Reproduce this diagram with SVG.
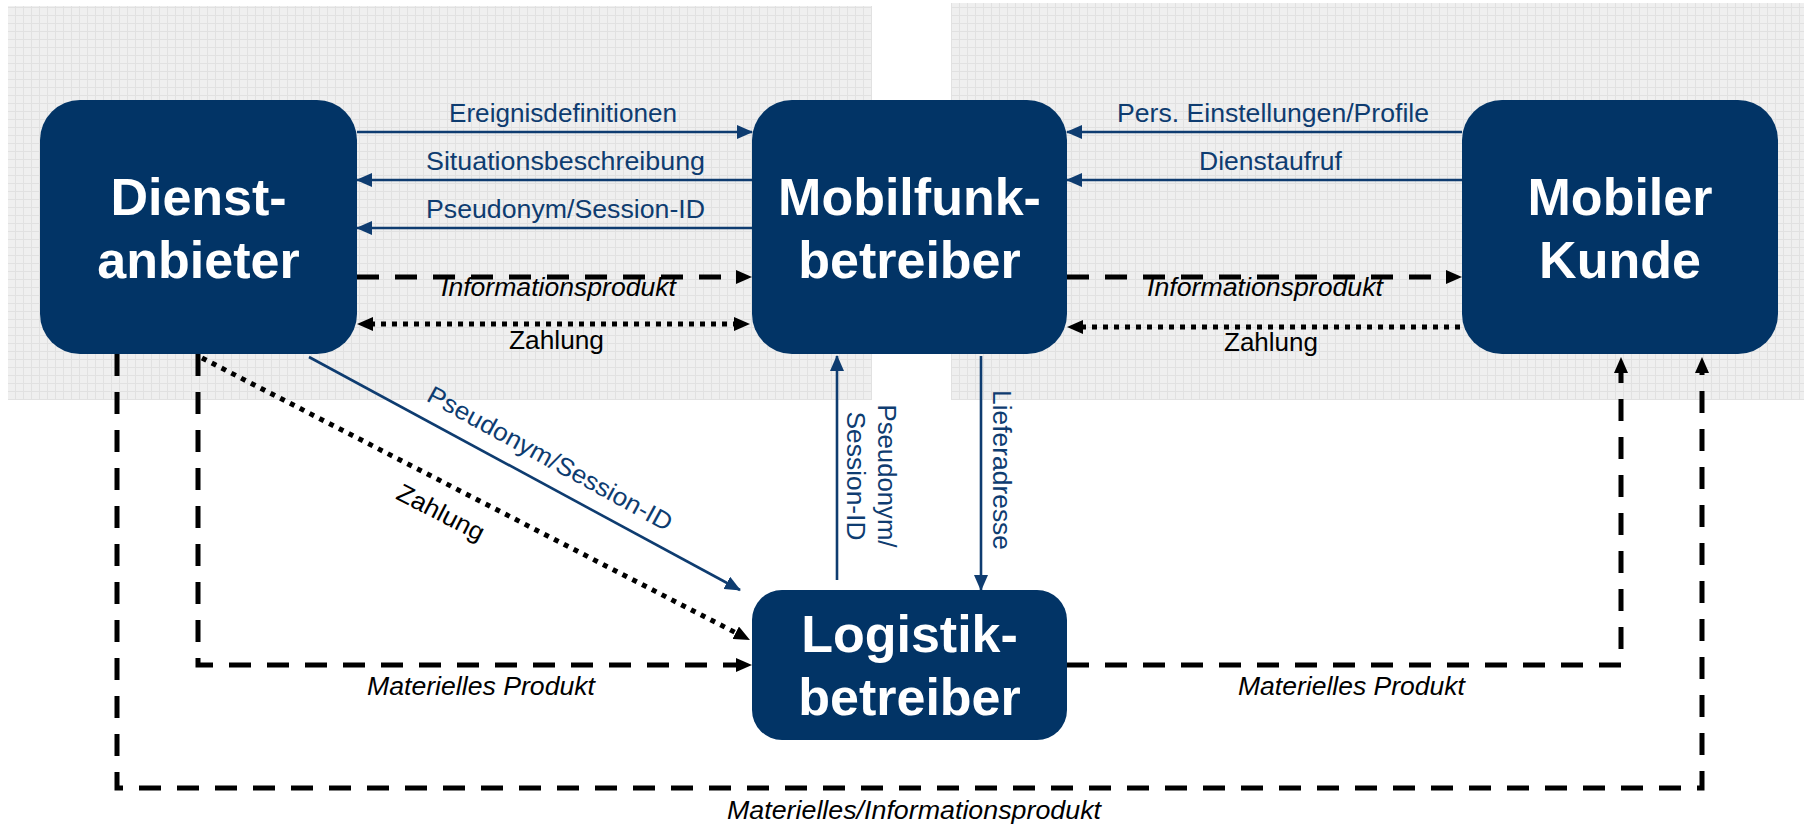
<svg xmlns="http://www.w3.org/2000/svg" width="1804" height="826" viewBox="0 0 1804 826">
<style>
.node rect{fill:#023466}
.nt{font-family:"Liberation Sans",Arial,sans-serif;font-weight:bold;font-size:52px;fill:#fff;text-anchor:middle}
.bl{font-family:"Liberation Sans",Arial,sans-serif;font-size:25px;fill:#0e3c70}
.bk{font-family:"Liberation Sans",Arial,sans-serif;font-size:25px;fill:#000}
.it{font-style:italic}
.lb{fill:none;stroke:#0e3c70;stroke-width:2.6}
.ld{fill:none;stroke:#000;stroke-width:5;stroke-dasharray:22 16}
.lo{fill:none;stroke:#000;stroke-width:5;stroke-dasharray:5 6}
</style>
<defs>
<pattern id="grid" width="8" height="8" patternUnits="userSpaceOnUse">
<rect width="8" height="8" fill="#efefef"/>
<path d="M7.5 0V8M0 7.5H8" stroke="#e1e1e1" stroke-width="1"/>
</pattern>
<marker id="arrB" markerUnits="userSpaceOnUse" markerWidth="16" markerHeight="14" refX="15" refY="7" orient="auto-start-reverse">
<path d="M0,0 L16,7 L0,14 z" fill="#0e3c70"/>
</marker>
<marker id="arrK" markerUnits="userSpaceOnUse" markerWidth="16" markerHeight="14" refX="3" refY="7" orient="auto-start-reverse">
<path d="M0,0 L16,7 L0,14 z" fill="#000"/>
</marker>
</defs>

<g id="background">
<rect x="8" y="6" width="864" height="394" fill="url(#grid)"/>
<rect x="951" y="3" width="853" height="397" fill="url(#grid)"/>
</g>

<g id="connectors">
<line class="lb" x1="357" y1="132" x2="752" y2="132" marker-end="url(#arrB)"/>
<line class="lb" x1="752" y1="180" x2="357" y2="180" marker-end="url(#arrB)"/>
<line class="lb" x1="752" y1="228" x2="357" y2="228" marker-end="url(#arrB)"/>
<line class="ld" x1="357" y1="277" x2="739" y2="277" marker-end="url(#arrK)"/>
<line class="lo" x1="370" y1="324" x2="737" y2="324" marker-start="url(#arrK)" marker-end="url(#arrK)"/>
<line class="lb" x1="1462" y1="132" x2="1067" y2="132" marker-end="url(#arrB)"/>
<line class="lb" x1="1462" y1="180" x2="1067" y2="180" marker-end="url(#arrB)"/>
<line class="ld" x1="1067" y1="277" x2="1449" y2="277" marker-end="url(#arrK)"/>
<line class="lo" x1="1460" y1="327" x2="1080" y2="327" marker-end="url(#arrK)"/>
<line class="lb" x1="309" y1="357" x2="740" y2="590" marker-end="url(#arrB)"/>
<line class="lo" x1="202" y1="358" x2="738.4" y2="634.1" marker-end="url(#arrK)"/>
<line class="lb" x1="837" y1="580" x2="837" y2="356" marker-end="url(#arrB)"/>
<line class="lb" x1="981" y1="356" x2="981" y2="590" marker-end="url(#arrB)"/>
<path class="ld" d="M198,354 V665 H739" marker-end="url(#arrK)"/>
<path class="ld" d="M117,354 V788 H1702 V370" marker-end="url(#arrK)"/>
<path class="ld" d="M1067,665 H1621 V370" marker-end="url(#arrK)"/>
</g>

<g id="labels">
<text class="bl" x="449" y="122" textLength="228" lengthAdjust="spacingAndGlyphs">Ereignisdefinitionen</text>
<text class="bl" x="426" y="170" textLength="279" lengthAdjust="spacingAndGlyphs">Situationsbeschreibung</text>
<text class="bl" x="426" y="218" textLength="279" lengthAdjust="spacingAndGlyphs">Pseudonym/Session-ID</text>
<text class="bk it" x="441" y="296" textLength="235" lengthAdjust="spacingAndGlyphs">Informationsprodukt</text>
<text class="bk" x="509" y="349" textLength="95" lengthAdjust="spacingAndGlyphs">Zahlung</text>
<text class="bl" x="1117" y="122" textLength="312" lengthAdjust="spacingAndGlyphs">Pers. Einstellungen/Profile</text>
<text class="bl" x="1199" y="170" textLength="143" lengthAdjust="spacingAndGlyphs">Dienstaufruf</text>
<text class="bk it" x="1147" y="296" textLength="236" lengthAdjust="spacingAndGlyphs">Informationsprodukt</text>
<text class="bk" x="1224" y="351" textLength="94" lengthAdjust="spacingAndGlyphs">Zahlung</text>
<text class="bl" transform="translate(546,466) rotate(28.6)" text-anchor="middle" textLength="275" lengthAdjust="spacingAndGlyphs">Pseudonym/Session-ID</text>
<text class="bk" transform="translate(437,520) rotate(27.2)" text-anchor="middle" textLength="95" lengthAdjust="spacingAndGlyphs">Zahlung</text>
<text class="bl" transform="translate(878,476) rotate(90)" text-anchor="middle" textLength="143" lengthAdjust="spacingAndGlyphs">Pseudonym/</text>
<text class="bl" transform="translate(847,476) rotate(90)" text-anchor="middle" textLength="129" lengthAdjust="spacingAndGlyphs">Session-ID</text>
<text class="bl" transform="translate(993,470) rotate(90)" text-anchor="middle" textLength="160" lengthAdjust="spacingAndGlyphs">Lieferadresse</text>
<text class="bk it" x="367" y="695" textLength="228" lengthAdjust="spacingAndGlyphs">Materielles Produkt</text>
<text class="bk it" x="1238" y="695" textLength="227" lengthAdjust="spacingAndGlyphs">Materielles Produkt</text>
<text class="bk it" x="727" y="819" textLength="374" lengthAdjust="spacingAndGlyphs">Materielles/Informationsprodukt</text>
</g>

<g id="dienstanbieter" class="node">
<rect x="40" y="100" width="317" height="254" rx="40" ry="40"/>
<text class="nt" x="198.5" y="215">Dienst-</text>
<text class="nt" x="198.5" y="278">anbieter</text>
</g>
<g id="mobilfunkbetreiber" class="node">
<rect x="752" y="100" width="315" height="254" rx="40" ry="40"/>
<text class="nt" x="909.5" y="215">Mobilfunk-</text>
<text class="nt" x="909.5" y="278">betreiber</text>
</g>
<g id="mobilerkunde" class="node">
<rect x="1462" y="100" width="316" height="254" rx="40" ry="40"/>
<text class="nt" x="1620" y="215">Mobiler</text>
<text class="nt" x="1620" y="278">Kunde</text>
</g>
<g id="logistikbetreiber" class="node">
<rect x="752" y="590" width="315" height="150" rx="30" ry="30"/>
<text class="nt" x="909.5" y="652">Logistik-</text>
<text class="nt" x="909.5" y="715">betreiber</text>
</g>
</svg>
